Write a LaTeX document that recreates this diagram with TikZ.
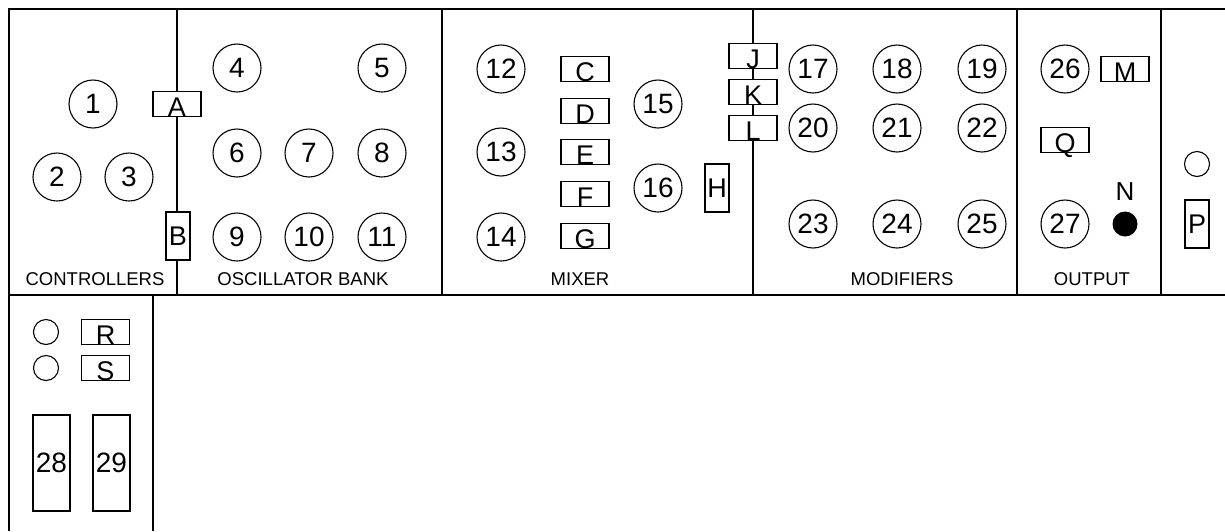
\documentclass[tikz,border=0pt]{standalone}
\usepackage{fontspec}
\setmainfont{Liberation Sans}
\begin{document}
\begin{tikzpicture}[x=1pt,y=-1pt,
 knob/.style={circle,draw,line width=1.1pt,minimum size=48pt,inner sep=0pt,font=\fontsize{28}{28}\selectfont},
 hbox/.style={rectangle,draw,fill=white,line width=1.1pt,minimum width=48pt,minimum height=24pt,inner sep=0pt,text height=25pt,text depth=-1pt,font=\fontsize{27}{27}\selectfont},
 vbox/.style={rectangle,draw,fill=white,line width=1.1pt,minimum width=24pt,minimum height=48pt,inner sep=0pt,font=\fontsize{27}{27}\selectfont},
 lamp/.style={circle,draw,line width=1.1pt,minimum size=25pt,inner sep=0pt},
 tallbox/.style={rectangle,draw,line width=1.1pt,minimum width=37pt,minimum height=96pt,inner sep=0pt,font=\fontsize{28}{28}\selectfont},
 caption/.style={anchor=base,inner sep=0pt,font=\fontsize{18.5}{18.5}\selectfont},
 frame/.style={line width=2.5pt},
 thindiv/.style={line width=1.1pt},
 middiv/.style={line width=1.6pt}]
\path[fill=white] (0,0) rectangle (1225,531);
\useasboundingbox (0,0) rectangle (1225,531);
% frame
\draw[frame] (1225,9) -- (9,9) -- (9,531);
\draw[frame] (9,295) -- (1225,295);
\draw[frame] (153,295) -- (153,531);
% dividers
\draw[thindiv] (177,9) -- (177,295);
\draw[middiv] (442,9) -- (442,295);
\draw[thindiv] (753,9) -- (753,295);
\draw[middiv] (1017,9) -- (1017,295);
\draw[middiv] (1161,9) -- (1161,295);
% knobs
\node[knob] (k1) at (93,104) {1};
\node[knob] (k2) at (57,177) {2};
\node[knob] (k3) at (129,177) {3};
\node[knob] (k4) at (237,68) {4};
\node[knob] (k5) at (382,68) {5};
\node[knob] (k6) at (237,153) {6};
\node[knob] (k7) at (309,153) {7};
\node[knob] (k8) at (382,153) {8};
\node[knob] (k9) at (237,237) {9};
\node[knob] (k10) at (309,237) {10};
\node[knob] (k11) at (382,237) {11};
\node[knob] (k12) at (501,69) {12};
\node[knob] (k13) at (501,152) {13};
\node[knob] (k14) at (501,237) {14};
\node[knob] (k15) at (658,104) {15};
\node[knob] (k16) at (658,188) {16};
\node[knob] (k17) at (813,69) {17};
\node[knob] (k18) at (897,69) {18};
\node[knob] (k19) at (982,69) {19};
\node[knob] (k20) at (813,128) {20};
\node[knob] (k21) at (897,128) {21};
\node[knob] (k22) at (982,128) {22};
\node[knob] (k23) at (813,224) {23};
\node[knob] (k24) at (897,224) {24};
\node[knob] (k25) at (982,224) {25};
\node[knob] (k26) at (1065,69) {26};
\node[knob] (k27) at (1065,224) {27};
% boxes
\node[hbox] (bA) at (177,104) {A};
\node[vbox] (bB) at (178,236) {B};
\node[hbox] (bC) at (585,69) {C};
\node[hbox] (bD) at (585,111) {D};
\node[hbox] (bE) at (585,152) {E};
\node[hbox] (bF) at (585,194) {F};
\node[hbox] (bG) at (585,236) {G};
\node[vbox] (bH) at (717,188) {H};
\node[hbox] (bJ) at (753,56) {J};
\node[hbox] (bK) at (753,92) {K};
\node[hbox] (bL) at (753,128) {L};
\node[hbox] (bM) at (1125,69) {M};
\node[hbox] (bQ) at (1065,140) {Q};
\node[vbox] (bP) at (1197,224) {P};
\node[hbox] (bR) at (105.5,332) {R};
\node[hbox] (bS) at (105.5,368) {S};
% N indicator
\node[circle,fill=black,minimum size=25pt,inner sep=0pt] (nN) at (1125,224) {};
\node[anchor=base,inner sep=0pt,font=\fontsize{26}{26}\selectfont] (tN) at (1125,200) {N};
% lamps
\node[lamp] (lP) at (1197,164) {};
\node[lamp] (lR) at (46,332) {};
\node[lamp] (lS) at (46,368) {};
% tall boxes
\node[tallbox] (t28) at (51.5,463) {28};
\node[tallbox] (t29) at (111.5,463) {29};
% captions
\node[caption] (cap1) at (95,285) {CONTROLLERS};
\node[caption] (cap2) at (303,285) {OSCILLATOR BANK};
\node[caption] (cap3) at (580,285) {MIXER};
\node[caption] (cap4) at (902,285) {MODIFIERS};
\node[caption] (cap5) at (1092,285) {OUTPUT};
\end{tikzpicture}
\end{document}
